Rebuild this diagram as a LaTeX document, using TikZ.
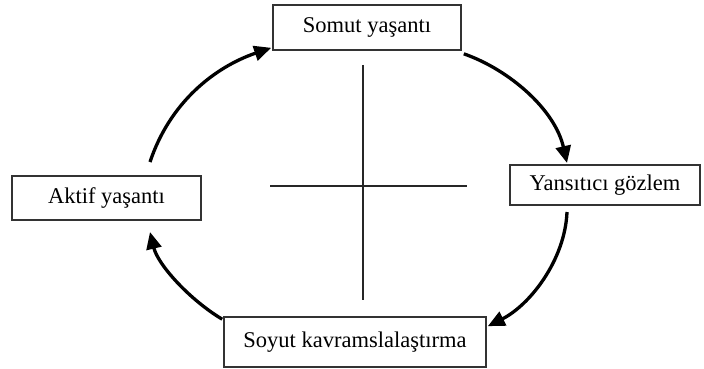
\documentclass[tikz,border=0pt]{standalone}
\usepackage{fontspec}
\setmainfont{Liberation Serif}
\usetikzlibrary{arrows.meta}
\begin{document}
\begin{tikzpicture}[x=1pt,y=-1pt,
  box/.style={draw=black!80,line width=1.6pt,fill=white,inner sep=0pt,
    font=\fontsize{22.5}{27}\selectfont},
  cyc/.style={line width=3.3pt,-{Triangle[length=17pt,width=15pt]}},
  axis/.style={line width=1.6pt,draw=black!85}]
\useasboundingbox (0,0) rectangle (704,369);
\node[box,minimum width=188pt,minimum height=45pt] (top) at (367,27.5) {Somut yaşantı};
\node[box,minimum width=189pt,minimum height=44pt] (left) at (106.5,198) {Aktif yaşantı};
\node[box,minimum width=190pt,minimum height=40pt] (right) at (605,185) {Yansıtıcı gözlem};
\node[box,minimum width=262pt,minimum height=50pt] (bottom) at (355,342) {Soyut kavramslalaştırma};
% cross
\coordinate (vt) at (363,65);
\coordinate (vb) at (363,300);
\coordinate (hl) at (270,186);
\coordinate (hr) at (467,186);
\draw[axis] (vt) -- (vb);
\draw[axis] (hl) -- (hr);
% arc ends
\coordinate (a1s) at (150,162);
\coordinate (a2e) at (567,163);
\coordinate (a3s) at (567,212);
\coordinate (a4e) at (150,232);
\draw[cyc] (a1s) .. controls (170,102) and (215,67) .. ([shift={(-1,-3)}]top.south west);
\draw[cyc] ([shift={(2,3)}]top.south east) .. controls (510,70) and (555,110) .. (a2e);
\draw[cyc] (a3s) .. controls (565,260) and (530,305) .. ([shift={(1,10)}]bottom.north east);
\draw[cyc] ([shift={(-1,3)}]bottom.north west) .. controls (190,300) and (158,265) .. (a4e);
\end{tikzpicture}
\end{document}
